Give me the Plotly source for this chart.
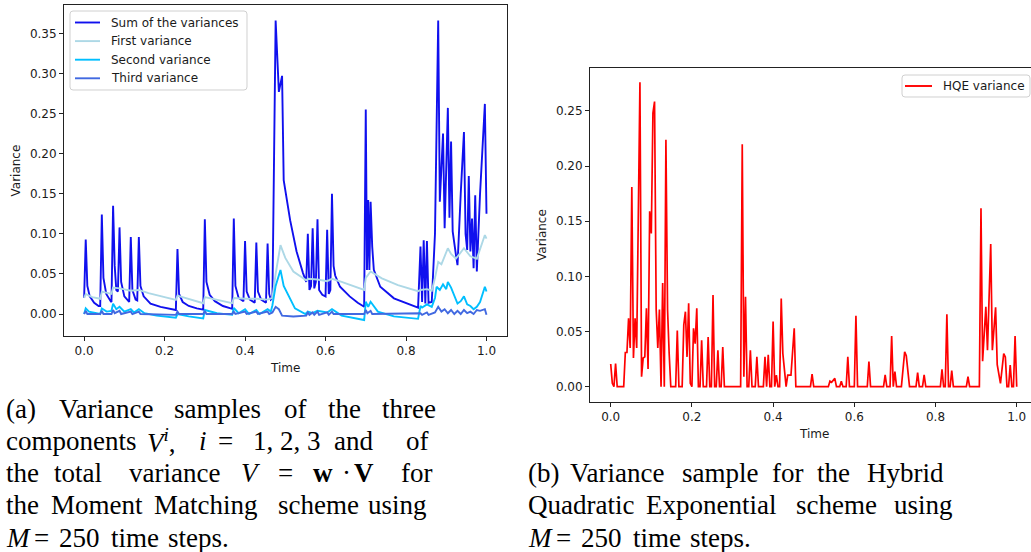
import plotly.graph_objects as go

W, H = 1031, 552

# ---------------- data: panel (a) Moment Matching ----------------
sum_t = [0.000, 0.004, 0.008, 0.014, 0.025, 0.036, 0.040, 0.044, 0.048, 0.055, 0.066, 0.068,
         0.072, 0.076, 0.080, 0.084, 0.088, 0.092, 0.100, 0.110, 0.112, 0.116, 0.120, 0.128,
         0.132, 0.136, 0.140, 0.148, 0.165, 0.190, 0.228, 0.232, 0.236, 0.245, 0.260, 0.280,
         0.296, 0.300, 0.304, 0.312, 0.325, 0.345, 0.368, 0.372, 0.376, 0.384, 0.396, 0.400,
         0.404, 0.412, 0.424, 0.428, 0.432, 0.440, 0.452, 0.456, 0.460, 0.464, 0.468, 0.476,
         0.484, 0.492, 0.496, 0.512, 0.528, 0.544, 0.552, 0.556, 0.560, 0.564, 0.568, 0.572,
         0.576, 0.580, 0.584, 0.592, 0.600, 0.604, 0.608, 0.612, 0.616, 0.620, 0.624, 0.636,
         0.660, 0.680, 0.696, 0.700, 0.703, 0.706, 0.709, 0.712, 0.716, 0.720, 0.736, 0.770,
         0.800, 0.830, 0.836, 0.840, 0.844, 0.848, 0.852, 0.856, 0.864, 0.872, 0.880, 0.884,
         0.892, 0.896, 0.904, 0.908, 0.912, 0.916, 0.924, 0.928, 0.936, 0.944, 0.948, 0.952,
         0.956, 0.960, 0.964, 0.968, 0.972, 0.976, 0.984, 0.996, 1.000]
sum_v = [0.020, 0.093, 0.035, 0.022, 0.014, 0.010, 0.010, 0.124, 0.045, 0.025, 0.016, 0.015,
         0.135, 0.060, 0.030, 0.028, 0.108, 0.040, 0.022, 0.016, 0.015, 0.096, 0.030, 0.018,
         0.017, 0.096, 0.035, 0.022, 0.013, 0.009, 0.005, 0.081, 0.025, 0.015, 0.010, 0.007,
         0.0055, 0.118, 0.040, 0.024, 0.016, 0.010, 0.0065, 0.119, 0.035, 0.020, 0.016, 0.091,
         0.028, 0.018, 0.014, 0.089, 0.028, 0.018, 0.014, 0.088, 0.025, 0.018, 0.020, 0.366,
         0.277, 0.297, 0.167, 0.117, 0.078, 0.051, 0.040, 0.100, 0.030, 0.035, 0.107, 0.032,
         0.040, 0.118, 0.030, 0.024, 0.022, 0.105, 0.025, 0.030, 0.150, 0.060, 0.048, 0.034,
         0.022, 0.014, 0.009, 0.255, 0.055, 0.142, 0.055, 0.140, 0.084, 0.055, 0.034, 0.0196,
         0.0133, 0.008, 0.084, 0.015, 0.092, 0.013, 0.091, 0.014, 0.015, 0.100, 0.366, 0.140,
         0.225, 0.107, 0.257, 0.120, 0.215, 0.103, 0.074, 0.061, 0.150, 0.227, 0.100, 0.080,
         0.172, 0.078, 0.119, 0.057, 0.148, 0.053, 0.150, 0.262, 0.125]

first_t = [0.000, 0.004, 0.020, 0.040, 0.044, 0.068, 0.072, 0.088, 0.116, 0.136, 0.160, 0.200,
           0.228, 0.232, 0.296, 0.300, 0.368, 0.372, 0.400, 0.428, 0.456, 0.468, 0.476, 0.488,
           0.500, 0.520, 0.552, 0.556, 0.580, 0.604, 0.616, 0.640, 0.696, 0.700, 0.712, 0.740,
           0.780, 0.830, 0.836, 0.852, 0.864, 0.872, 0.880, 0.888, 0.904, 0.912, 0.924, 0.944,
           0.960, 0.976, 0.992, 0.996, 1.000]
first_v = [0.020, 0.025, 0.021, 0.019, 0.028, 0.025, 0.033, 0.032, 0.029, 0.030, 0.026, 0.021,
           0.0175, 0.023, 0.0135, 0.021, 0.0135, 0.020, 0.019, 0.019, 0.018, 0.020, 0.050, 0.086,
           0.070, 0.053, 0.042, 0.044, 0.043, 0.041, 0.044, 0.040, 0.030, 0.045, 0.053, 0.0445,
           0.036, 0.0285, 0.030, 0.031, 0.029, 0.045, 0.065, 0.062, 0.082, 0.075, 0.069, 0.082,
           0.072, 0.069, 0.092, 0.0985, 0.094]

second_t = [0.000, 0.004, 0.012, 0.040, 0.044, 0.056, 0.068, 0.072, 0.080, 0.088, 0.100, 0.116,
            0.124, 0.136, 0.150, 0.180, 0.228, 0.232, 0.260, 0.296, 0.300, 0.330, 0.368, 0.372,
            0.384, 0.400, 0.410, 0.428, 0.436, 0.456, 0.464, 0.468, 0.476, 0.488, 0.496, 0.508,
            0.524, 0.550, 0.556, 0.568, 0.580, 0.604, 0.616, 0.640, 0.696, 0.700, 0.706, 0.712,
            0.730, 0.770, 0.830, 0.836, 0.840, 0.852, 0.864, 0.872, 0.876, 0.884, 0.892, 0.900,
            0.904, 0.912, 0.920, 0.928, 0.936, 0.944, 0.952, 0.960, 0.968, 0.976, 0.984, 0.992,
            0.996, 1.000]
second_v = [0.000, 0.007, 0.003, 0.000, 0.007, 0.003, 0.004, 0.013, 0.006, 0.009, 0.003, 0.006,
            0.002, 0.006, 0.001, -0.002, -0.0046, 0.000, -0.003, -0.0054, 0.005, 0.001, -0.001, 0.0075,
            0.001, 0.006, 0.000, 0.005, 0.000, 0.006, 0.003, 0.011, 0.035, 0.055, 0.035, 0.0237,
            0.007, 0.000, 0.003, 0.001, 0.004, 0.002, 0.006, -0.002, -0.0075, 0.0153, 0.009, 0.0153,
            0.003, -0.003, -0.006, 0.010, 0.008, 0.012, 0.009, 0.020, 0.034, 0.030, 0.037, 0.031,
            0.040, 0.033, 0.023, 0.013, 0.016, 0.022, 0.012, 0.010, 0.006, 0.009, 0.015, 0.026,
            0.034, 0.028]

third_t = [0.000, 0.004, 0.008, 0.040, 0.044, 0.048, 0.068, 0.072, 0.076, 0.088, 0.092, 0.116,
           0.120, 0.136, 0.140, 0.228, 0.232, 0.236, 0.296, 0.300, 0.304, 0.368, 0.372, 0.376,
           0.400, 0.404, 0.428, 0.432, 0.456, 0.460, 0.468, 0.476, 0.484, 0.492, 0.520, 0.552,
           0.556, 0.560, 0.568, 0.572, 0.580, 0.584, 0.604, 0.608, 0.616, 0.620, 0.696, 0.700,
           0.704, 0.712, 0.716, 0.836, 0.840, 0.852, 0.856, 0.872, 0.880, 0.888, 0.896, 0.904,
           0.912, 0.920, 0.928, 0.936, 0.944, 0.952, 0.960, 0.968, 0.976, 0.984, 0.996, 1.000]
third_v = [0.000, 0.004, 0.000, 0.000, 0.004, 0.000, 0.000, 0.005, 0.001, 0.004, 0.000, 0.003,
           0.000, 0.003, 0.000, -0.001, 0.003, 0.000, 0.000, 0.004, 0.000, 0.000, 0.003, 0.000,
           0.003, 0.000, 0.003, 0.000, 0.003, 0.000, 0.002, 0.009, 0.006, -0.002, -0.003, -0.002,
           0.002, -0.001, 0.002, -0.001, 0.003, -0.001, 0.002, -0.001, 0.003, 0.000, 0.000, 0.005,
           0.001, 0.004, 0.000, 0.001, -0.001, 0.002, -0.001, 0.002, 0.009, 0.003, 0.006, 0.001,
           0.005, 0.000, 0.004, 0.000, 0.005, 0.001, 0.003, 0.000, 0.005, 0.004, 0.006, -0.001]

# ---------------- data: panel (b) HQE ----------------
hqe_t = [0.000, 0.004, 0.008, 0.012, 0.016, 0.032, 0.036, 0.040, 0.044, 0.048, 0.052, 0.056,
         0.060, 0.064, 0.072, 0.076, 0.080, 0.084, 0.088, 0.092, 0.096, 0.100, 0.104, 0.108,
         0.112, 0.116, 0.120, 0.124, 0.128, 0.132, 0.136, 0.140, 0.144, 0.148, 0.160, 0.164,
         0.168, 0.176, 0.180, 0.184, 0.188, 0.192, 0.196, 0.200, 0.204, 0.208, 0.212, 0.216,
         0.220, 0.224, 0.228, 0.236, 0.240, 0.244, 0.248, 0.252, 0.256, 0.260, 0.264, 0.268,
         0.272, 0.276, 0.280, 0.320, 0.324, 0.328, 0.332, 0.336, 0.340, 0.344, 0.348, 0.356,
         0.360, 0.364, 0.376, 0.380, 0.384, 0.388, 0.392, 0.396, 0.400, 0.404, 0.408, 0.412,
         0.416, 0.420, 0.424, 0.428, 0.432, 0.436, 0.444, 0.452, 0.456, 0.492, 0.496, 0.500,
         0.536, 0.540, 0.544, 0.552, 0.556, 0.564, 0.568, 0.572, 0.580, 0.584, 0.588, 0.600,
         0.604, 0.608, 0.632, 0.636, 0.640, 0.672, 0.676, 0.680, 0.688, 0.692, 0.696, 0.700,
         0.704, 0.716, 0.724, 0.728, 0.736, 0.752, 0.756, 0.760, 0.768, 0.772, 0.776, 0.812,
         0.816, 0.820, 0.824, 0.828, 0.832, 0.836, 0.840, 0.844, 0.876, 0.880, 0.884, 0.908,
         0.912, 0.916, 0.920, 0.924, 0.928, 0.936, 0.940, 0.948, 0.952, 0.960, 0.968, 0.972,
         0.976, 0.980, 0.984, 0.988, 0.992, 0.996, 1.000]
hqe_v = [0.0206, 0.003, 0.000, 0.021, 0.000, 0.000, 0.031, 0.031, 0.062, 0.035, 0.181, 0.026,
         0.062, 0.035, 0.276, 0.009, 0.026, 0.027, 0.071, 0.016, 0.159, 0.139, 0.248, 0.2585,
         0.070, 0.035, 0.070, 0.000, 0.094, 0.000, 0.224, 0.070, 0.030, 0.000, 0.000, 0.051,
         0.000, 0.000, 0.056, 0.068, 0.027, 0.0757, 0.003, 0.000, 0.053, 0.039, 0.071, 0.000,
         0.000, 0.042, 0.000, 0.000, 0.045, 0.000, 0.000, 0.083, 0.000, 0.000, 0.033, 0.000,
         0.000, 0.036, 0.000, 0.000, 0.2198, 0.009, 0.0816, 0.000, 0.000, 0.033, 0.000, 0.000,
         0.027, 0.000, 0.000, 0.027, 0.000, 0.029, 0.000, 0.000, 0.059, 0.000, 0.0105, 0.000,
         0.000, 0.080, 0.030, 0.015, 0.000, 0.0105, 0.0105, 0.053, 0.000, 0.000, 0.0115, 0.000,
         0.000, 0.005, 0.004, 0.0075, 0.000, 0.000, 0.005, 0.000, 0.000, 0.027, 0.000, 0.000,
         0.0644, 0.000, 0.000, 0.0227, 0.000, 0.000, 0.0106, 0.000, 0.000, 0.046, 0.000, 0.0136,
         0.000, 0.000, 0.0317, 0.028, 0.000, 0.000, 0.0127, 0.000, 0.000, 0.0106, 0.000, 0.000,
         0.0157, 0.000, 0.000, 0.0656, 0.000, 0.000, 0.0145, 0.000, 0.000, 0.009, 0.000, 0.000,
         0.1618, 0.023, 0.045, 0.0725, 0.033, 0.1294, 0.033, 0.072, 0.020, 0.003, 0.030, 0.027,
         0.000, 0.000, 0.0197, 0.000, 0.000, 0.046, 0.000]

x_ticks = [0.0, 0.2, 0.4, 0.6, 0.8, 1.0]
x_ticktext = ["0.0", "0.2", "0.4", "0.6", "0.8", "1.0"]
ya_ticks = [0.00, 0.05, 0.10, 0.15, 0.20, 0.25, 0.30, 0.35]
ya_ticktext = ["0.00", "0.05", "0.10", "0.15", "0.20", "0.25", "0.30", "0.35"]
yb_ticks = [0.00, 0.05, 0.10, 0.15, 0.20, 0.25]
yb_ticktext = ["0.00", "0.05", "0.10", "0.15", "0.20", "0.25"]

series_a = [
    ("Sum of the variances", sum_t, sum_v, "#1010ee"),
    ("First variance", first_t, first_v, "lightblue"),
    ("Second variance", second_t, second_v, "deepskyblue"),
    ("Third variance", third_t, third_v, "royalblue"),
]
series_b = [("HQE variance", hqe_t, hqe_v, "#ff0000")]

TXT = "#1a1a1a"
TICKFONT = dict(family="DejaVu Sans", size=12, color=TXT)


def px_x(p):
    return p / W


def px_y(p):
    return 1 - p / H


fig = go.Figure()
for name, t, v, c in series_a:
    fig.add_trace(go.Scatter(x=t, y=v, mode="lines", name=name,
                             line=dict(color=c, width=1.9),
                             xaxis="x", yaxis="y", showlegend=False))
for name, t, v, c in series_b:
    fig.add_trace(go.Scatter(x=t, y=v, mode="lines", name=name,
                             line=dict(color=c, width=1.7),
                             xaxis="x2", yaxis="y2", showlegend=False))

axis_common = dict(showgrid=False, zeroline=False, showline=True, linecolor="#222",
                   linewidth=1, ticks="outside", ticklen=4, tickwidth=1, tickcolor="#222",
                   tickfont=TICKFONT)

fig.update_layout(
    width=W, height=H,
    margin=dict(l=0, r=0, t=0, b=0),
    paper_bgcolor="white", plot_bgcolor="white",
    showlegend=False,
    xaxis=dict(domain=[px_x(64), px_x(506.6)], range=[-0.05, 1.05], tickvals=x_ticks,
               ticktext=x_ticktext, mirror=True, anchor="y", **axis_common),
    yaxis=dict(domain=[px_y(336), px_y(5)], range=[-0.0274, 0.3853], tickvals=ya_ticks,
               ticktext=ya_ticktext, mirror=True, anchor="x", **axis_common),
    xaxis2=dict(domain=[px_x(590), 1.0], range=[-0.0510, 1.0352], tickvals=x_ticks,
                ticktext=x_ticktext, mirror=True, anchor="y2", **axis_common),
    yaxis2=dict(domain=[px_y(402), px_y(68.3)], range=[-0.0139, 0.2887], tickvals=yb_ticks,
                ticktext=yb_ticktext, mirror=False, anchor="x2", **axis_common),
)


# ---------------- legends (matplotlib-style boxes) ----------------
def rounded_box(x0, y0, x1, y1, r=3):
    X = lambda p: f"{px_x(p):.5f}"
    Y = lambda p: f"{px_y(p):.5f}"
    return (f"M{X(x0 + r)},{Y(y0)} L{X(x1 - r)},{Y(y0)} Q{X(x1)},{Y(y0)} {X(x1)},{Y(y0 + r)} "
            f"L{X(x1)},{Y(y1 - r)} Q{X(x1)},{Y(y1)} {X(x1 - r)},{Y(y1)} "
            f"L{X(x0 + r)},{Y(y1)} Q{X(x0)},{Y(y1)} {X(x0)},{Y(y1 - r)} "
            f"L{X(x0)},{Y(y0 + r)} Q{X(x0)},{Y(y0)} {X(x0 + r)},{Y(y0)} Z")


legend_specs = [
    # (series list, box px, first-row y px, row step, line x0, line x1, text x)
    (series_a, (70, 11, 247, 90), 22.5, 18.6, 75, 100, 110),
    (series_b, (902, 75, 1030, 97), 86, 18.6, 905, 932, 942),
]
for series, (bx0, by0, bx1, by1), ry0, step, lx0, lx1, tx in legend_specs:
    fig.add_shape(type="path", path=rounded_box(bx0, by0, bx1, by1), xref="paper", yref="paper",
                  line=dict(color="#d0d0d0", width=1), fillcolor="rgba(255,255,255,0.85)",
                  layer="above")
    for i, (name, _t, _v, c) in enumerate(series):
        yy = ry0 + i * step
        fig.add_shape(type="line", xref="paper", yref="paper", x0=px_x(lx0), x1=px_x(lx1),
                      y0=px_y(yy), y1=px_y(yy), line=dict(color=c, width=1.9), layer="above")
        fig.add_annotation(xref="paper", yref="paper", showarrow=False, x=px_x(tx),
                           y=px_y(yy), xanchor="left", yanchor="middle", borderpad=0,
                           text=name, font=dict(family="DejaVu Sans", size=12, color=TXT))

# axis titles
ann = []
ann.append(dict(text="Variance", x=px_x(15), y=px_y(170.5), textangle=-90))
ann.append(dict(text="Time", x=px_x(285), y=px_y(368)))
ann.append(dict(text="Variance", x=px_x(542), y=px_y(235), textangle=-90))
ann.append(dict(text="Time", x=px_x(814), y=px_y(434)))
for a in ann:
    fig.add_annotation(xref="paper", yref="paper", showarrow=False,
                       xanchor="center", yanchor="middle",
                       font=dict(family="DejaVu Sans", size=12, color=TXT), **a)

# captions (justified text placed word by word)
CAP = 27
caption_words = [
    # (text, left x px, baseline y px)
    ("(a)", 5, 418), ("Variance", 58, 418), ("samples", 173, 418), ("of", 283, 418),
    ("the", 327, 418), ("three", 381, 418),
    ("components", 5, 450.5), ("<i>V</i><sup><i>i</i></sup>,", 146, 450.5), ("<i>i</i>", 198, 450.5),
    ("=", 217, 450.5), ("1, 2, 3", 252, 450.5), ("and", 333, 450.5), ("of", 405, 450.5),
    ("the", 5, 482), ("total", 53, 482), ("variance", 128, 482), ("<i>V</i>", 240, 482),
    ("=", 277, 482), ("<b>w</b>", 312, 482), ("·", 341, 482), ("<b>V</b>", 353, 482),
    ("for", 400, 482),
    ("the", 5, 514), ("Moment", 50, 514), ("Matching", 153, 514), ("scheme", 277, 514),
    ("using", 367, 514),
    ("<i>M</i>", 5, 546.7), ("=", 33, 546.7), ("250", 58, 546.7), ("time", 110, 546.7),
    ("steps.", 167, 546.7),
    ("(b)", 527, 482), ("Variance", 569, 482), ("sample", 681, 482), ("for", 771, 482),
    ("the", 816, 482), ("Hybrid", 866, 482),
    ("Quadratic", 527, 514), ("Exponential", 645, 514), ("scheme", 795, 514),
    ("using", 893, 514),
    ("<i>M</i>", 527, 546.7), ("=", 555, 546.7), ("250", 580, 546.7), ("time", 632, 546.7),
    ("steps.", 689, 546.7),
]
for txt, xl, base in caption_words:
    fig.add_annotation(xref="paper", yref="paper", showarrow=False,
                       x=px_x(xl), y=px_y(base - 0.34 * CAP), xanchor="left", yanchor="middle",
                       borderpad=0, text=txt,
                       font=dict(family="Liberation Serif", size=CAP, color="#000000"))

fig.write_html("out.html")
